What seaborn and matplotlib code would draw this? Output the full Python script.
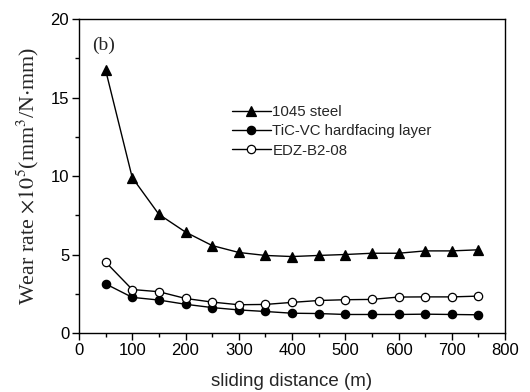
import matplotlib
matplotlib.use('Agg')
import matplotlib.pyplot as plt
import pandas as pd
import seaborn as sns
from matplotlib.ticker import MultipleLocator

# Daten
distance = [50, 100, 150, 200, 250, 300, 350, 400, 450, 500, 550, 600, 650, 700, 750]
steel_1045 = [16.75, 9.9, 7.56, 6.43, 5.57, 5.13, 4.94, 4.87, 4.94, 5.0, 5.08, 5.08, 5.23, 5.23, 5.3]
tic_vc = [3.13, 2.27, 2.1, 1.83, 1.62, 1.47, 1.37, 1.26, 1.24, 1.18, 1.18, 1.18, 1.2, 1.18, 1.16]
edz_b2 = [4.52, 2.77, 2.63, 2.2, 1.97, 1.8, 1.82, 1.95, 2.07, 2.12, 2.14, 2.29, 2.3, 2.3, 2.35]
series_names = ['1045 steel', 'TiC-VC hardfacing layer', 'EDZ-B2-08']

df = pd.DataFrame({
    'distance': distance * 3,
    'rate': steel_1045 + tic_vc + edz_b2,
    'serie': [series_names[0]] * len(distance) + [series_names[1]] * len(distance)
             + [series_names[2]] * len(distance),
})

sns.set_style('ticks')
plt.rcParams['font.family'] = ['Liberation Sans', 'DejaVu Sans']
plt.rcParams['mathtext.fontset'] = 'stix'

fig = plt.figure(figsize=(5.3, 3.92), dpi=100)
ax = fig.add_axes([0.149, 0.1505, 0.804, 0.801])

styles = {
    series_names[0]: dict(marker='^', markerfacecolor='black', markersize=6.5),
    series_names[1]: dict(marker='o', markerfacecolor='black', markersize=6),
    series_names[2]: dict(marker='o', markerfacecolor='white', markersize=6),
}
for name in series_names:
    sub = df[df['serie'] == name]
    sns.lineplot(data=sub, x='distance', y='rate', ax=ax, color='black',
                 linewidth=1.0, markeredgecolor='black', markeredgewidth=0.9,
                 label=name, **styles[name])

ax.set_xlim(0, 800)
ax.set_ylim(0, 20)
ax.set_xticks(range(0, 801, 100))
ax.set_yticks([0, 5, 10, 15, 20])
ax.xaxis.set_minor_locator(MultipleLocator(50))
ax.yaxis.set_minor_locator(MultipleLocator(2.5))
ax.tick_params(which='major', direction='out', length=5, width=1, labelsize=12,
               colors='black', pad=2)
ax.tick_params(which='minor', direction='out', length=3, width=1, colors='black')
for s in ax.spines.values():
    s.set_linewidth(1)
    s.set_color('black')

ax.set_xlabel('sliding distance (m)', fontsize=13.5, labelpad=11)
ax.set_ylabel(r'Wear rate $\times10^5$(mm$^3$/N$\cdot$mm)', fontsize=15.8,
              family='Liberation Serif', labelpad=7)
ax.text(0.03, 0.9, '(b)', transform=ax.transAxes, fontsize=14,
        family='Liberation Serif')

ax.legend(loc='upper left', bbox_to_anchor=(0.345, 0.745), frameon=False,
          fontsize=10.8, handlelength=2.6, handletextpad=0.1, labelspacing=0.35,
          borderaxespad=0)

fig.savefig('out.png', dpi=100)
